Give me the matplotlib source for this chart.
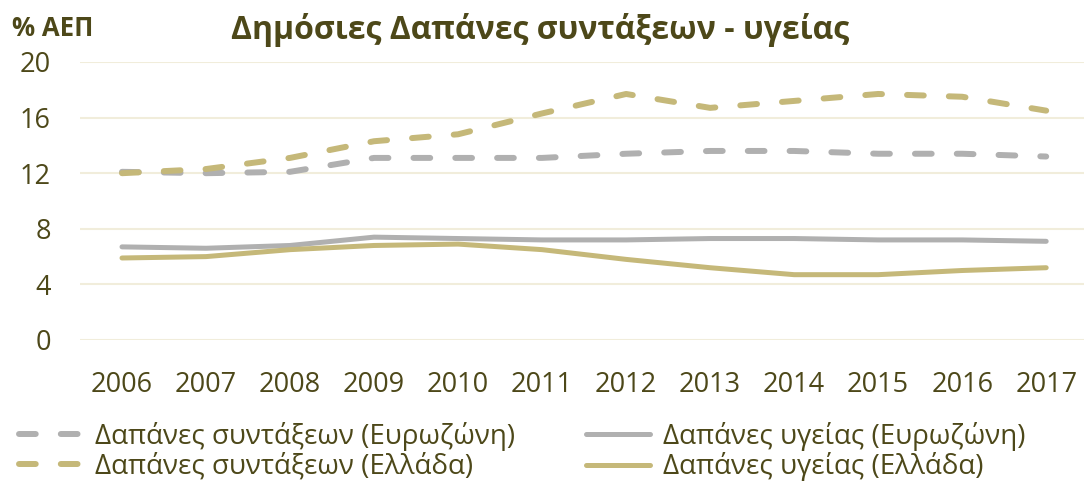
import matplotlib

matplotlib.use("Agg")
import matplotlib.pyplot as plt
import numpy as np

years = ["2006", "2007", "2008", "2009", "2010", "2011",
         "2012", "2013", "2014", "2015", "2016", "2017"]
pension_ez = [12.1, 12.0, 12.1, 13.1, 13.1, 13.1, 13.4, 13.6, 13.6, 13.4, 13.4, 13.2]
pension_gr = [12.0, 12.3, 13.1, 14.3, 14.8, 16.3, 17.7, 16.7, 17.2, 17.7, 17.5, 16.5]
health_ez = [6.7, 6.6, 6.8, 7.4, 7.3, 7.2, 7.2, 7.3, 7.3, 7.2, 7.2, 7.1]
health_gr = [5.9, 6.0, 6.5, 6.8, 6.9, 6.5, 5.8, 5.2, 4.7, 4.7, 5.0, 5.2]
yticks = [0, 4, 8, 12, 16, 20]

GREY = "#b0b0b0"
GOLD = "#c5b879"
TEXT = "#4d4819"
GRID = "#f1eddb"

plt.rcParams["font.family"] = ["Open Sans", "DejaVu Sans"]

fig = plt.figure(figsize=(10.84, 4.82), dpi=100)
ax = fig.add_axes([80 / 1084, 1 - 340 / 482, 1004 / 1084, 278 / 482])

x = np.arange(len(years))
dash = (0, (2.8, 4.2))
# order chosen so the 2-column legend reads row by row like the original
l1, = ax.plot(x, pension_ez, color=GREY, lw=4.3, ls=dash, dash_capstyle="round",
              label="Δαπάνες συντάξεων (Ευρωζώνη)")
l3, = ax.plot(x, pension_gr, color=GOLD, lw=4.3, ls=dash, dash_capstyle="round",
              label="Δαπάνες συντάξεων (Ελλάδα)")
l2, = ax.plot(x, health_ez, color=GREY, lw=3.6, solid_capstyle="round",
              label="Δαπάνες υγείας (Ευρωζώνη)")
l4, = ax.plot(x, health_gr, color=GOLD, lw=3.6, solid_capstyle="round",
              label="Δαπάνες υγείας (Ελλάδα)")

ax.set_xlim(-0.5, 11.45)
ax.set_ylim(0, 20)
ax.set_yticks(yticks)
ax.set_xticks(x, years)
ax.grid(axis="y", color=GRID, lw=1.5)
ax.set_axisbelow(True)
for s in ax.spines.values():
    s.set_visible(False)
ax.tick_params(length=0, labelsize=19.5, colors=TEXT)
ax.tick_params(axis="y", pad=21)
ax.tick_params(axis="x", pad=22)

fig.text(540 / 1084, 1 - 30 / 482, "Δημόσιες Δαπάνες συντάξεων - υγείας",
         ha="center", va="center", fontsize=23, fontweight="bold", color=TEXT)
fig.text(12 / 1084, 1 - 28 / 482, "% ΑΕΠ", ha="left", va="center",
         fontsize=18.5, fontweight="bold", color=TEXT)

fig.legend(handles=[l1, l3, l2, l4], loc="lower left",
           bbox_to_anchor=(-0.003, -0.045), ncol=2,
           frameon=False, fontsize=20, labelcolor=TEXT,
           handlelength=2.3, handletextpad=0.45, columnspacing=2.55,
           labelspacing=0.05, borderpad=0.3)

fig.savefig("out.png", dpi=100)
